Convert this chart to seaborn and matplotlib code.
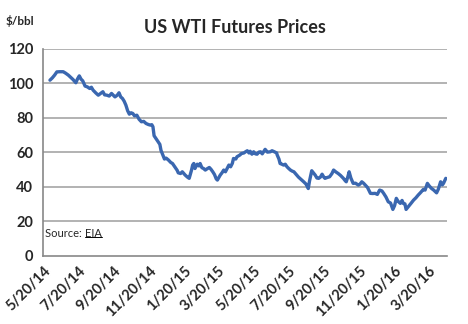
import matplotlib
matplotlib.use("Agg")
import matplotlib.pyplot as plt
import matplotlib.dates as mdates
from matplotlib.lines import Line2D
import seaborn as sns
import pandas as pd

dates = [
    "2014-06-01", "2014-06-05", "2014-06-09", "2014-06-13", "2014-06-18", "2014-06-24", "2014-06-28",
    "2014-07-03", "2014-07-08", "2014-07-11", "2014-07-16", "2014-07-19", "2014-07-22", "2014-07-25",
    "2014-07-28", "2014-08-01", "2014-08-05", "2014-08-09", "2014-08-12", "2014-08-15", "2014-08-20",
    "2014-08-24", "2014-08-28", "2014-09-01", "2014-09-04", "2014-09-08", "2014-09-12", "2014-09-16",
    "2014-09-19", "2014-09-22", "2014-09-26", "2014-09-29", "2014-10-02", "2014-10-05", "2014-10-08",
    "2014-10-11", "2014-10-14", "2014-10-17", "2014-10-20", "2014-10-23", "2014-10-26", "2014-10-30",
    "2014-11-03", "2014-11-07", "2014-11-11", "2014-11-15", "2014-11-19", "2014-11-22", "2014-11-25",
    "2014-11-27", "2014-11-29", "2014-12-02", "2014-12-06", "2014-12-09", "2014-12-11", "2014-12-14",
    "2014-12-17", "2014-12-20", "2014-12-24", "2014-12-28", "2014-12-31",
    "2015-01-04", "2015-01-08", "2015-01-10", "2015-01-14", "2015-01-17", "2015-01-22", "2015-01-26",
    "2015-01-29", "2015-02-02", "2015-02-04", "2015-02-06", "2015-02-08", "2015-02-12", "2015-02-15",
    "2015-02-17", "2015-02-20", "2015-02-23", "2015-02-26", "2015-03-01", "2015-03-05", "2015-03-08",
    "2015-03-11", "2015-03-14", "2015-03-17", "2015-03-19", "2015-03-22", "2015-03-24", "2015-03-27",
    "2015-03-30", "2015-04-02", "2015-04-05", "2015-04-08", "2015-04-11", "2015-04-14", "2015-04-16",
    "2015-04-20", "2015-04-22", "2015-04-27", "2015-04-30", "2015-05-04", "2015-05-07", "2015-05-10",
    "2015-05-13", "2015-05-15", "2015-05-18", "2015-05-21", "2015-05-24", "2015-05-27", "2015-05-30",
    "2015-06-02", "2015-06-05", "2015-06-08", "2015-06-10", "2015-06-14", "2015-06-19", "2015-06-22",
    "2015-06-26", "2015-06-30", "2015-07-01", "2015-07-04", "2015-07-06", "2015-07-09", "2015-07-12",
    "2015-07-15", "2015-07-18", "2015-07-21", "2015-07-24", "2015-07-27", "2015-07-30", "2015-08-03",
    "2015-08-07", "2015-08-12", "2015-08-16", "2015-08-20", "2015-08-24", "2015-08-26", "2015-08-28",
    "2015-08-30", "2015-09-05", "2015-09-08", "2015-09-11", "2015-09-14", "2015-09-17", "2015-09-20",
    "2015-09-22", "2015-09-26", "2015-09-30", "2015-10-04", "2015-10-07", "2015-10-11", "2015-10-15",
    "2015-10-19", "2015-10-24", "2015-10-27", "2015-10-29", "2015-11-01", "2015-11-03", "2015-11-06",
    "2015-11-10", "2015-11-14", "2015-11-19", "2015-11-22", "2015-11-25", "2015-11-28", "2015-12-01",
    "2015-12-05", "2015-12-08", "2015-12-10", "2015-12-14", "2015-12-18", "2015-12-22", "2015-12-26",
    "2015-12-30", "2016-01-02", "2016-01-06", "2016-01-10", "2016-01-14", "2016-01-18", "2016-01-21",
    "2016-01-24", "2016-01-27", "2016-01-31", "2016-02-03", "2016-02-05", "2016-02-08", "2016-02-10",
    "2016-02-13", "2016-02-16", "2016-02-19", "2016-02-23", "2016-02-27", "2016-03-02", "2016-03-06",
    "2016-03-11", "2016-03-14", "2016-03-18", "2016-03-21", "2016-03-25", "2016-03-29", "2016-04-03",
    "2016-04-06", "2016-04-10", "2016-04-13", "2016-04-15", "2016-04-19",
]

prices = [
    101.7, 103.0, 104.6, 106.5, 106.6, 106.6, 105.8,
    104.6, 103.0, 102.1, 100.2, 102.5, 104.2, 102.3,
    101.3, 98.3, 97.8, 96.9, 97.6, 95.9, 94.2,
    93.0, 94.0, 95.0, 93.2, 93.0, 92.5, 94.0,
    93.0, 92.0, 93.0, 94.4, 92.0, 91.1, 89.5,
    87.2, 84.0, 82.0, 82.8, 82.4, 81.0, 81.4,
    79.0, 77.6, 77.8, 76.6, 76.0, 75.7, 75.9,
    74.7, 69.5, 68.0, 66.0, 64.5, 61.0, 58.5,
    56.0, 56.5, 55.4, 54.0, 53.4,
    51.5, 49.5, 48.0, 47.6, 48.6, 46.7, 45.5,
    44.8, 49.5, 52.5, 53.4, 50.5, 53.0, 52.0,
    53.4, 51.0, 50.5, 49.6, 50.3, 51.1, 50.0,
    48.6, 47.0, 44.5, 43.8, 45.5, 46.7, 48.0,
    49.6, 48.6, 50.5, 52.5, 51.5, 53.5, 56.3,
    56.0, 57.3, 58.3, 59.2, 59.5, 60.2, 60.8,
    59.5, 60.5, 58.8, 60.2, 59.0, 58.8, 60.0,
    60.2, 59.0, 60.5, 61.6, 60.0, 60.2, 60.8,
    60.2, 59.5, 58.3, 56.0, 53.4, 53.0, 52.5,
    53.0, 51.5, 50.5, 49.6, 49.0, 48.6, 47.0,
    45.5, 44.0, 42.8, 41.5, 38.9, 43.0, 46.0,
    49.2, 46.7, 45.0, 44.8, 45.5, 47.2, 45.5,
    44.8, 45.3, 45.7, 47.5, 49.6, 48.5, 47.6,
    46.5, 44.8, 43.5, 42.8, 46.0, 48.6, 45.0,
    41.9, 42.0, 40.9, 41.5, 42.8, 42.0, 40.9,
    39.5, 37.5, 36.1, 36.0, 36.1, 35.5, 38.0,
    37.5, 36.1, 34.0, 31.2, 30.5, 26.8, 29.0,
    33.2, 31.5, 30.3, 32.0, 30.3, 30.0, 26.8,
    28.0, 29.3, 30.5, 32.2, 33.5, 35.1, 36.5,
    38.4, 38.0, 41.9, 40.5, 39.0, 38.0, 36.4,
    38.5, 42.8, 41.0, 41.9, 44.8,
]

tick_dates = ["2014-05-20", "2014-07-20", "2014-09-20", "2014-11-20", "2015-01-20", "2015-03-20",
              "2015-05-20", "2015-07-20", "2015-09-20", "2015-11-20", "2016-01-20", "2016-03-20"]
tick_labels = ["5/20/14", "7/20/14", "9/20/14", "11/20/14", "1/20/15", "3/20/15",
               "5/20/15", "7/20/15", "9/20/15", "11/20/15", "1/20/16", "3/20/16"]
y_ticks = [0, 20, 40, 60, 80, 100, 120]

title = "US WTI Futures Prices"
unit_label = "$/bbl"

sns.set_style("white")
plt.rcParams["font.family"] = ["Lato", "DejaVu Sans"]

df = pd.DataFrame({"date": pd.to_datetime(dates), "price": prices})

fig = plt.figure(figsize=(4.68, 3.24), dpi=100)
ax = fig.add_axes([0.092, 0.211, 0.863, 0.639])

grid_c = "#A6A6A6"
for y in y_ticks[1:]:
    ax.axhline(y, color=grid_c, lw=1.2, zorder=0)

sns.lineplot(data=df, x="date", y="price", ax=ax, color="#3A67B0", lw=2.4, zorder=3)

ax.set_xlim(pd.Timestamp("2014-05-20"), pd.Timestamp("2016-04-21"))
ax.set_ylim(0, 120)
ax.set_yticks(y_ticks)
ax.set_yticklabels([str(v) for v in y_ticks], fontsize=10.5, fontweight="bold")
ax.set_xticks(pd.to_datetime(tick_dates))
ax.set_xticklabels(tick_labels, rotation=45, ha="right", rotation_mode="anchor",
                   fontsize=10.5, fontweight="bold")
ax.set_xlabel("")
ax.set_ylabel("")

for s in ["top", "right"]:
    ax.spines[s].set_visible(False)
for s in ["left", "bottom"]:
    ax.spines[s].set_color("#888888")
    ax.spines[s].set_linewidth(1.2)
ax.tick_params(axis="both", direction="out", length=4, width=1.0, color="#888888", pad=2)
ax.tick_params(axis="y", pad=3)

fig.text(0.503, 0.915, title, ha="center", va="center", fontsize=13, fontweight="bold")
fig.text(0.013, 0.935, unit_label, ha="left", va="center", fontsize=8.5, fontweight="bold")

t1 = ax.text(0.005, 0.108, "Source: ", transform=ax.transAxes, ha="left", va="center", fontsize=8)
fig.canvas.draw()
r = fig.canvas.get_renderer()
bb = t1.get_window_extent(r)
inv = ax.transAxes.inverted()
x_end = inv.transform((bb.x1, bb.y0))[0]
t2 = ax.text(x_end, 0.108, "EIA", transform=ax.transAxes, ha="left", va="center", fontsize=8)
bb2 = t2.get_window_extent(r)
p0 = inv.transform((bb2.x0, bb2.y0 + 1.5))
p1 = inv.transform((bb2.x1, bb2.y0 + 1.5))
ax.add_line(Line2D([p0[0], p1[0]], [p0[1], p1[1]], transform=ax.transAxes, color="black", lw=0.7))

fig.savefig("out.png", dpi=100)
